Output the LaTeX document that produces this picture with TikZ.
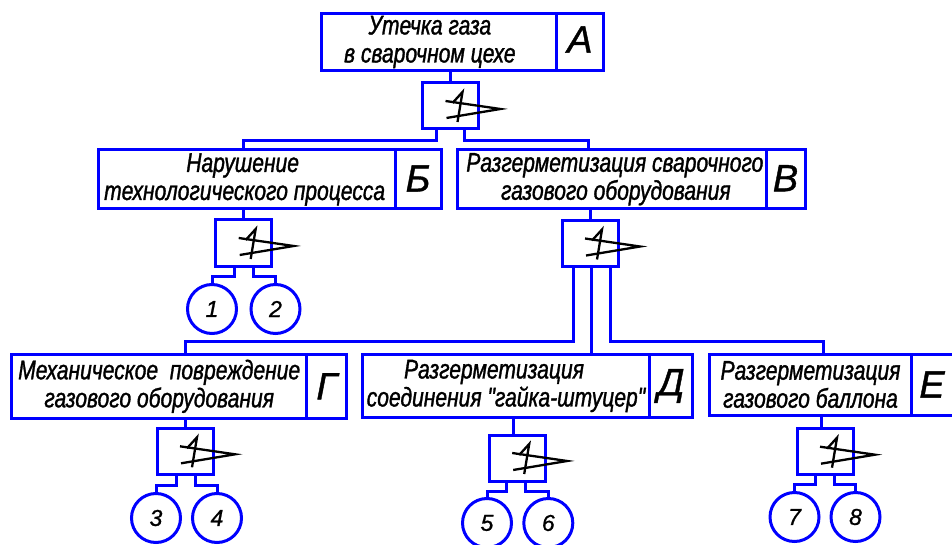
\documentclass[tikz,border=0pt]{standalone}
\usepackage{fontspec}
\newfontfamily\gost[FakeStretch=0.78,FakeBold=1.2]{Liberation Sans}
\newfontfamily\gostw[FakeBold=1]{Liberation Sans}
\usetikzlibrary{calc}
\newcommand\orsym[1]{%
  \draw[symln] ([shift={(23,18)}]#1.north west) -- ([shift={(78,26)}]#1.north west) -- ([shift={(24,35)}]#1.north west);
  \draw[symln] ([shift={(30,20)}]#1.north west) -- ([shift={(40,9)}]#1.north west) -- ([shift={(35,39)}]#1.north west);
}
\begin{document}
\begin{tikzpicture}[x=1pt,y=-1pt, line join=miter,
  ln/.style={draw=blue, line width=3pt},
  symln/.style={draw=black, line width=2.3pt, line join=miter},
  txtbox/.style={ln, rectangle, inner sep=0pt, outer sep=0pt, align=center,
     font=\gost\itshape\fontsize{27}{28}\selectfont},
  letbox/.style={ln, rectangle, inner sep=0pt, outer sep=0pt,
     font=\gostw\itshape\fontsize{38}{40}\selectfont},
  gatebox/.style={ln, rectangle, minimum width=56pt, minimum height=46pt, inner sep=0pt, outer sep=0pt},
  evt/.style={ln, circle, minimum size=49pt, inner sep=0pt, outer sep=0pt,
     font=\gostw\itshape\fontsize{23}{24}\selectfont},
]
\useasboundingbox (0,0) rectangle (952,545);

% ---- boxes
\node[txtbox, minimum width=235.7pt, minimum height=57.4pt] (A) at (438.85,42) {Утечка газа\hspace*{18pt}\\в сварочном цехе\hspace*{18pt}};
\node[letbox, minimum width=46.3pt, minimum height=57.4pt] (Al) at (579.85,42) {\raisebox{5pt}{А}};

\node[txtbox, minimum width=296.7pt, minimum height=59pt] (B) at (246.65,179.5) {Нарушение\hspace*{8pt}\\технологического процесса\hspace*{4pt}};
\node[letbox, minimum width=46pt, minimum height=59pt] (Bl) at (418,179.5) {\raisebox{2pt}{Б}};

\node[txtbox, minimum width=308.3pt, minimum height=58.5pt] (V) at (611.85,179.25) {\hspace*{6pt}Разгерметизация сварочного\\\hspace*{8pt}газового оборудования};
\node[letbox, minimum width=39pt, minimum height=58.5pt] (Vl) at (785.5,179.25) {\raisebox{2pt}{В}};

\node[txtbox, minimum width=295pt, minimum height=64pt] (G) at (159.2,386.3) {Механическое\ \ повреждение\\газового оборудования};
\node[letbox, minimum width=40pt, minimum height=64pt] (Gl) at (326.7,386.3) {Г};

\node[txtbox, minimum width=286.6pt, minimum height=63.4pt] (D) at (506,386) {Разгерметизация\hspace*{24pt}\\соединения "гайка-штуцер"};
\node[letbox, minimum width=43.4pt, minimum height=63.4pt] (Dl) at (671,386) {Д};

\node[txtbox, minimum width=202.4pt, minimum height=61pt] (E) at (810.5,384.5) {Разгерметизация\\газового баллона};
\node[letbox, minimum width=48.3pt, minimum height=61pt] (El) at (935.85,384.5) {Е\hspace*{7.7pt}};

% ---- gates
\node[gatebox] (gA) at (450.5,106) {};
\node[gatebox] (gB) at (243.7,243) {};
\node[gatebox] (gV) at (590,243.5) {};
\node[gatebox] (gG) at (185,451.3) {};
\node[gatebox] (gD) at (517.2,458) {};
\node[gatebox] (gE) at (825,451.7) {};
\orsym{gA}\orsym{gB}\orsym{gV}\orsym{gG}\orsym{gD}\orsym{gE}

% ---- events
\node[evt] (e1) at (212,309) {1};
\node[evt] (e2) at (275.5,309) {2};
\node[evt] (e3) at (156,518) {3};
\node[evt] (e4) at (217,518) {4};
\node[evt] (e5) at (487,523) {5};
\node[evt] (e6) at (548.3,523) {6};
\node[evt] (e7) at (794.5,517) {7};
\node[evt] (e8) at (855.5,517) {8};

% ---- connectors boxes -> gates
\draw[ln] (A.south -| gA) -- (gA.north);
\draw[ln] (B.south -| gB) -- (gB.north);
\draw[ln] (V.south -| gV) -- (gV.north);
\draw[ln] (G.south -| gG) -- (gG.north);
\draw[ln] ([xshift=-4pt]gD.north |- D.south) -- ([xshift=-4pt]gD.north);
\draw[ln] ([xshift=-4pt]gE.north |- E.south) -- ([xshift=-4pt]gE.north);

% ---- gate A outputs
\draw[ln] ([xshift=-14pt]gA.south) -- ++(0,11.5) -| (B.north -| gB);
\draw[ln] ([xshift=13.5pt]gA.south) -- ++(0,11.5) -| ([xshift=-1.5pt]V.north -| gV);

% ---- gate B outputs
\draw[ln] ([xshift=-9.4pt]gB.south) -- ++(0,10.7) -| (e1.north);
\draw[ln] ([xshift=9.6pt]gB.south) -- ++(0,10.7) -| (e2.north);

% ---- gate V outputs
\draw[ln] ([xshift=-17pt]gV.south) -- ++(0,75.2) -| (G.north -| gG);
\draw[ln] ([xshift=1pt]gV.south) -- ([xshift=1pt]gV.south |- D.north);
\draw[ln] ([xshift=20pt]gV.south) -- ++(0,75.2) -| ([xshift=-2pt]E.north -| gE);

% ---- gate G outputs
\draw[ln] ([xshift=-8.3pt]gG.south) -- ++(0,11.4) -| (e3.north);
\draw[ln] ([xshift=10pt]gG.south) -- ++(0,11.4) -| (e4.north);

% ---- gate D outputs
\draw[ln] ([xshift=-10.5pt]gD.south) -- ++(0,10.7) -| (e5.north);
\draw[ln] ([xshift=8.5pt]gD.south) -- ++(0,10.7) -| (e6.north);

% ---- gate E outputs
\draw[ln] ([xshift=-10pt]gE.south) -- ++(0,10) -| (e7.north);
\draw[ln] ([xshift=9.3pt]gE.south) -- ++(0,10) -| (e8.north);
\end{tikzpicture}
\end{document}
